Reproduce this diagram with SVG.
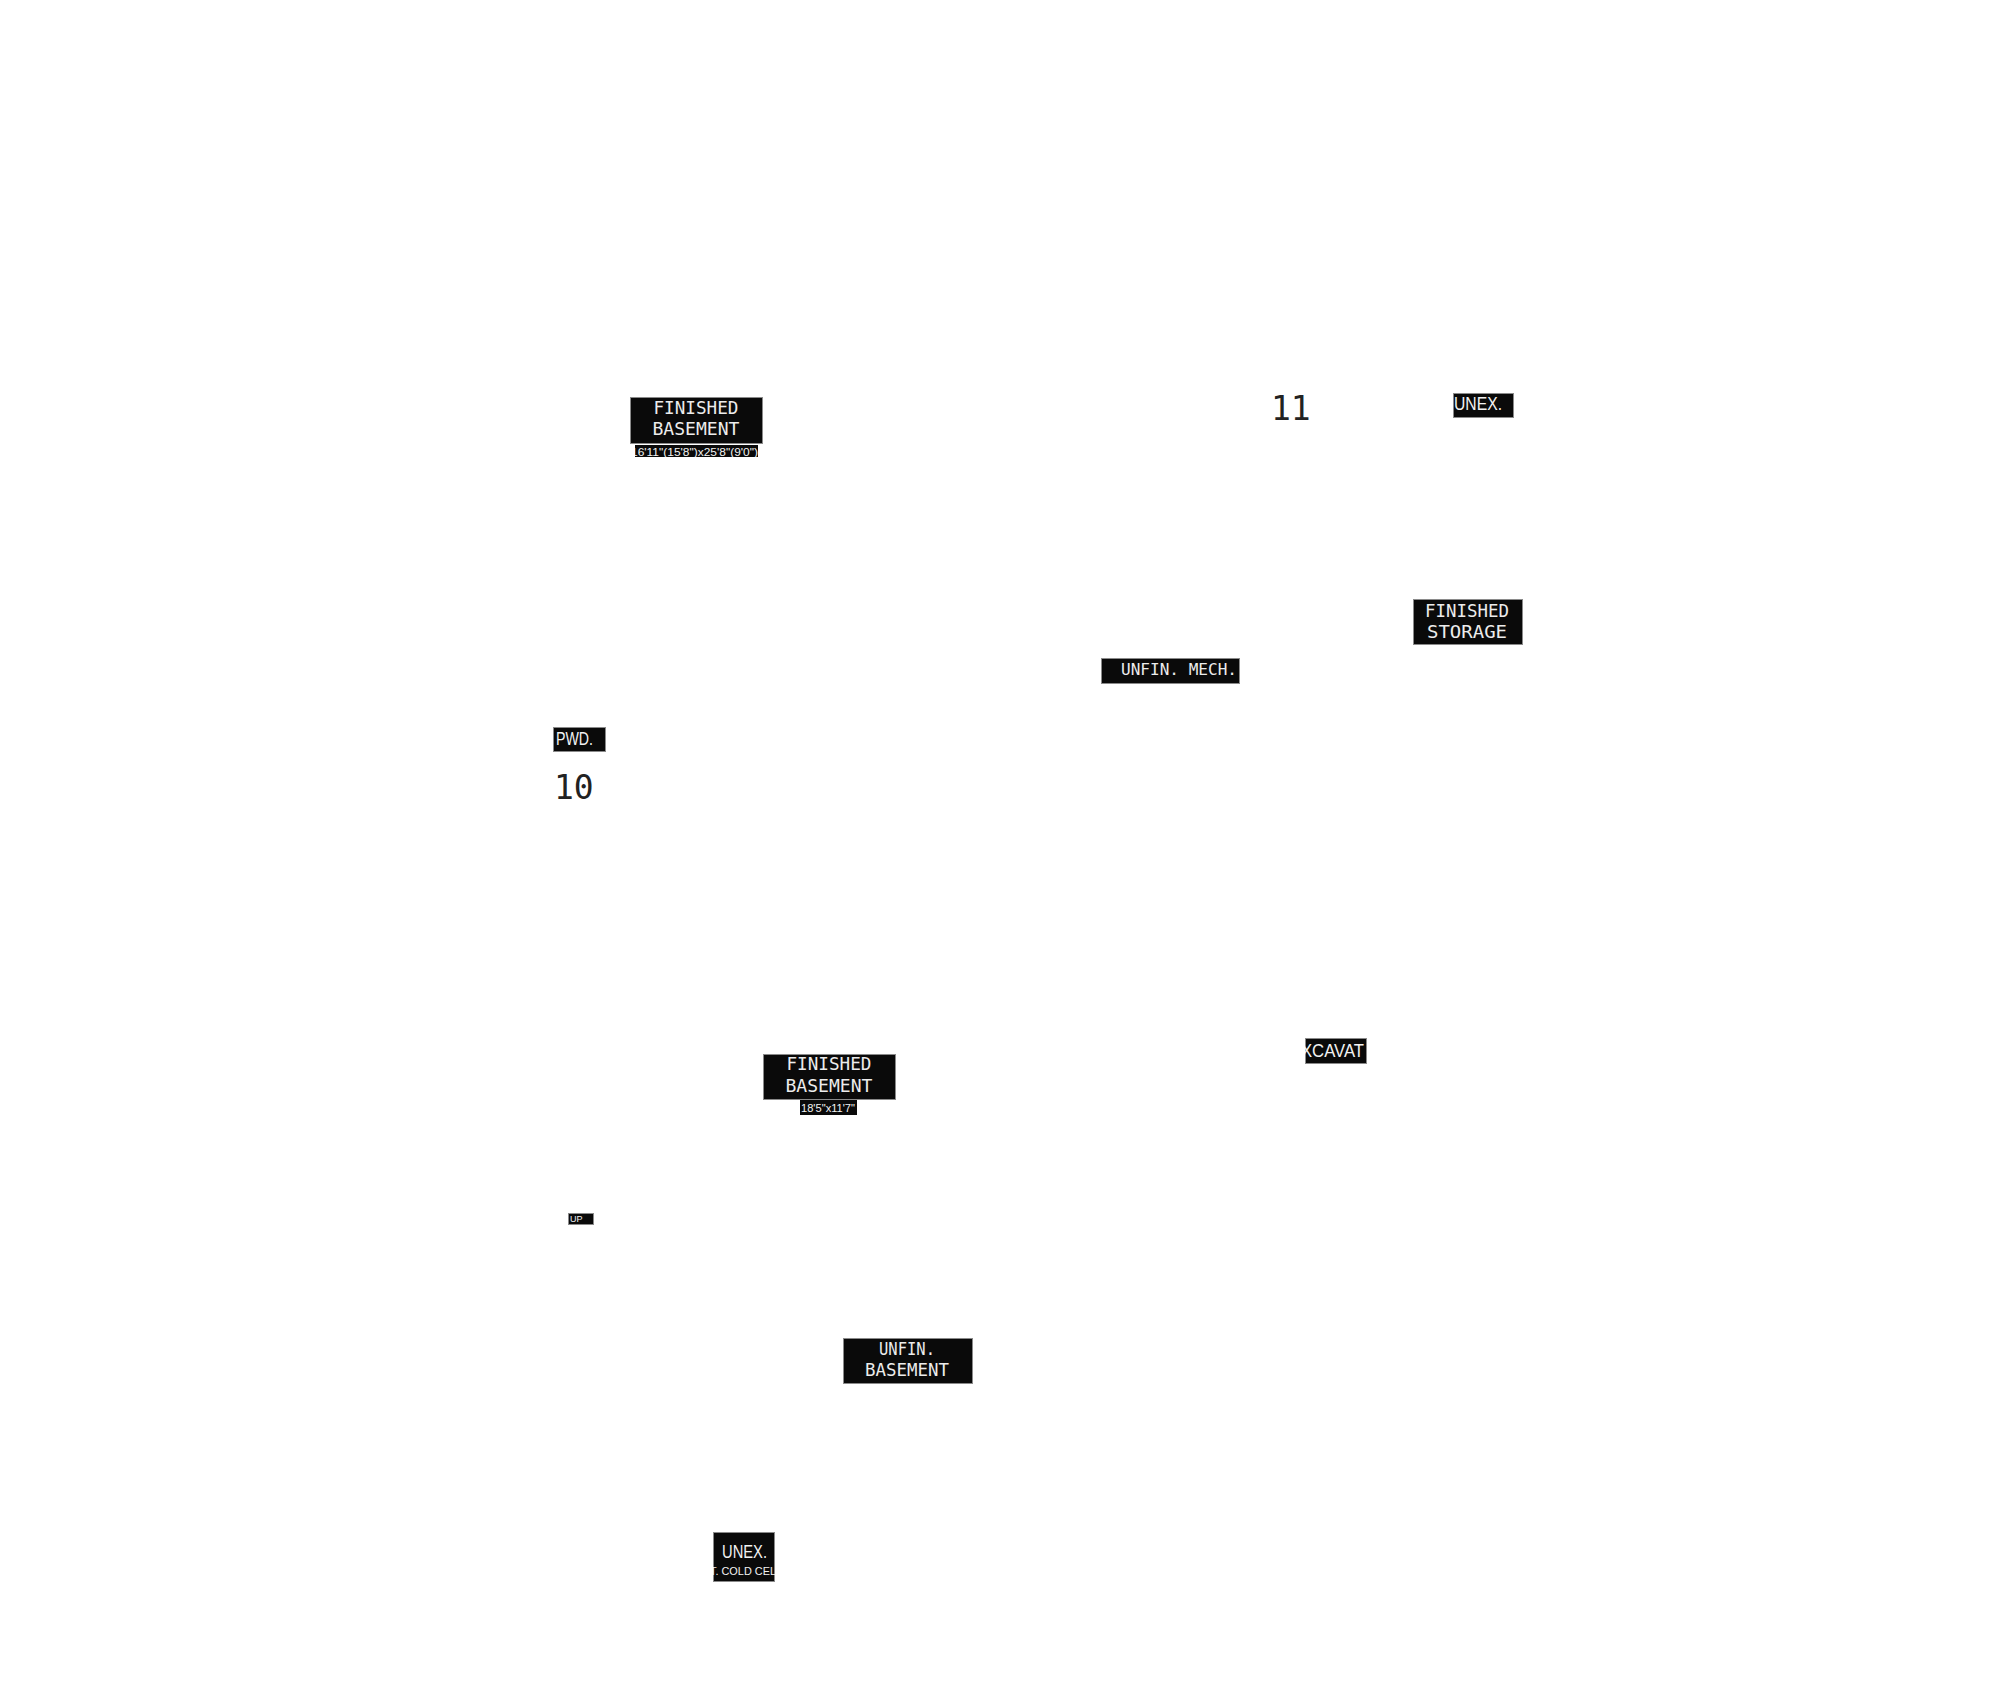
<svg xmlns="http://www.w3.org/2000/svg" width="2000" height="1706" viewBox="0 0 2000 1706">
<style>
.box{fill:#0a0a0a;stroke:#8a8a8a;stroke-width:1}
.strip{fill:#0a0a0a}
.mono{font-family:"DejaVu Sans Mono","Liberation Mono",monospace;fill:#ececec}
.sans{font-family:"Liberation Sans","Roboto",sans-serif;fill:#f2f2f2}
.num{font-family:"DejaVu Sans Mono","Liberation Mono",monospace;fill:#222;font-size:33px}
.dim{font-family:"Liberation Sans","Roboto",sans-serif;fill:#f2f2f2;font-size:11.5px}
</style>
<defs>
<clipPath id="c1"><rect x="635" y="445" width="123" height="12"/></clipPath>
<clipPath id="c2"><rect x="1305" y="1038" width="61" height="25"/></clipPath>
<clipPath id="c3"><rect x="713" y="1532" width="62" height="50"/></clipPath>
<clipPath id="c4"><rect x="1101" y="658" width="138" height="25"/></clipPath>
</defs>
<rect width="2000" height="1706" fill="#fff"/>
<g id="connectors"></g>

<g id="finished-basement-1">
<rect class="box" x="630.5" y="397.5" width="132" height="46"/>
<text class="mono" font-size="17.5" x="696" y="414" text-anchor="middle" textLength="85" lengthAdjust="spacingAndGlyphs">FINISHED</text>
<text class="mono" font-size="17.5" x="696" y="435" text-anchor="middle" textLength="87" lengthAdjust="spacingAndGlyphs">BASEMENT</text>
<rect class="strip" x="635" y="445" width="123" height="12"/>
<text class="dim" clip-path="url(#c1)" x="631" y="456" textLength="127" lengthAdjust="spacingAndGlyphs">16'11"(15'8")x25'8"(9'0")</text>
</g>

<g id="label-11">
<text class="num" x="1271" y="420">11</text>
</g>

<g id="unex-top">
<rect class="box" x="1453.5" y="393.5" width="60" height="24"/>
<text class="sans" font-size="19" x="1454" y="410" textLength="48" lengthAdjust="spacingAndGlyphs">UNEX.</text>
</g>

<g id="finished-storage">
<rect class="box" x="1413.5" y="599.5" width="109" height="45"/>
<text class="mono" font-size="17.5" x="1467" y="617" text-anchor="middle" textLength="84" lengthAdjust="spacingAndGlyphs">FINISHED</text>
<text class="mono" font-size="17.5" x="1467" y="638" text-anchor="middle" textLength="80" lengthAdjust="spacingAndGlyphs">STORAGE</text>
</g>

<g id="unfin-mech">
<rect class="box" x="1101.5" y="658.5" width="138" height="25"/>
<text class="mono" font-size="16.3" x="1121" y="675" clip-path="url(#c4)" textLength="116" lengthAdjust="spacingAndGlyphs">UNFIN. MECH.</text>
</g>

<g id="pwd">
<rect class="box" x="553.5" y="727.5" width="52" height="24"/>
<text class="sans" font-size="18" x="556" y="745" textLength="37" lengthAdjust="spacingAndGlyphs">PWD.</text>
</g>

<g id="label-10">
<text class="num" x="554" y="799">10</text>
</g>

<g id="finished-basement-2">
<rect class="box" x="763.5" y="1054.5" width="132" height="45"/>
<text class="mono" font-size="17.5" x="829" y="1070" text-anchor="middle" textLength="85" lengthAdjust="spacingAndGlyphs">FINISHED</text>
<text class="mono" font-size="17.5" x="829" y="1092" text-anchor="middle" textLength="87" lengthAdjust="spacingAndGlyphs">BASEMENT</text>
<rect class="strip" x="800" y="1100" width="57" height="15"/>
<text class="dim" x="801" y="1112" textLength="54" lengthAdjust="spacingAndGlyphs">18'5"x11'7"</text>
</g>

<g id="excavated">
<rect class="box" x="1305.5" y="1038.5" width="61" height="25"/>
<text class="sans" font-size="19" x="1301" y="1057" clip-path="url(#c2)" textLength="63" lengthAdjust="spacingAndGlyphs">XCAVAT</text>
</g>

<g id="up">
<rect class="box" x="568.5" y="1213.5" width="25" height="11"/>
<text class="sans" font-size="9" x="570" y="1222">UP</text>
</g>

<g id="unfin-basement">
<rect class="box" x="843.5" y="1338.5" width="129" height="45"/>
<text class="mono" font-size="17" x="907" y="1355" text-anchor="middle" textLength="56" lengthAdjust="spacingAndGlyphs">UNFIN.</text>
<text class="mono" font-size="17" x="907" y="1376" text-anchor="middle" textLength="84" lengthAdjust="spacingAndGlyphs">BASEMENT</text>
</g>

<g id="unex-bottom">
<rect class="box" x="713.5" y="1532.5" width="61" height="49"/>
<text class="sans" font-size="19" x="722" y="1558" textLength="45" lengthAdjust="spacingAndGlyphs">UNEX.</text>
<text class="sans" font-size="11" x="710" y="1575" clip-path="url(#c3)" textLength="66" lengthAdjust="spacingAndGlyphs">T. COLD CEL</text>
</g>
</svg>
